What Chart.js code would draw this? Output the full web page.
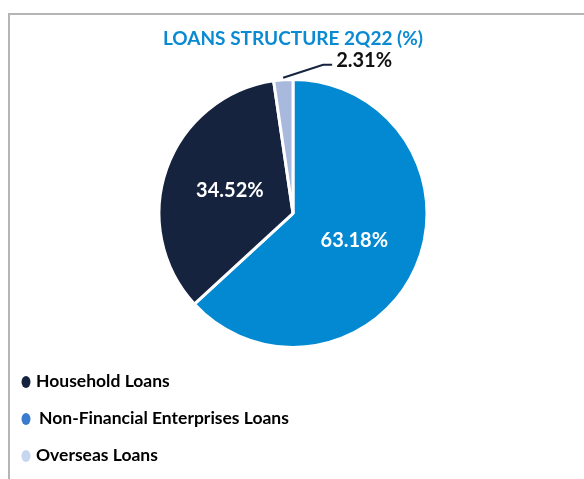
<!DOCTYPE html>
<html>
<head>
<meta charset="utf-8">
<script src="https://cdn.jsdelivr.net/npm/chart.js@4/dist/chart.umd.min.js"></script>
<style>
  html, body { margin: 0; padding: 0; background: #fff; }
  #wrap { position: relative; width: 584px; height: 479px; }
  #frame { position: absolute; left: 8px; top: 13px; right: 0; bottom: 0;
           border-top: 2px solid #b5b5b5; border-left: 2px solid #b5b5b5; }
  #chart { position: absolute; left: 0; top: 0; }
</style>
</head>
<body>
<div id="wrap">
  <div id="frame"></div>
  <canvas id="chart" width="584" height="479"></canvas>
</div>
<script>
const categories = ["Household Loans", "Non-Financial Enterprises Loans", "Overseas Loans"];
const shares = [34.52, 63.18, 2.31];
// slices are laid clockwise from 12 o'clock in this order (indexes into categories)
const drawOrder = [1, 0, 2];

const sliceColors = ["#15233f", "#0289d1", "#a9b9de"];
const markerColors = ["#15233f", "#3a7bcf", "#c6d6ef"];

const FONT = "Lato, 'Open Sans', 'DejaVu Sans', sans-serif";

// percentage labels: inside for big slices, with a leader line for the small one
const sliceLabels = {
  id: "sliceLabels",
  afterDatasetsDraw(chart) {
    const ctx = chart.ctx;
    const meta = chart.getDatasetMeta(0);
    ctx.save();
    ctx.font = "bold 20px " + FONT;
    meta.data.forEach((arc, i) => {
      const value = chart.data.datasets[0].data[i];
      const text = value.toFixed(2) + "%";
      if (value > 10) {
        const pos = arc.tooltipPosition();
        ctx.fillStyle = "#ffffff";
        ctx.textAlign = "center";
        ctx.textBaseline = "middle";
        ctx.fillText(text, pos.x, pos.y);
      } else {
        const p = arc.getProps(["x", "y", "startAngle", "endAngle", "outerRadius"], true);
        const mid = (p.startAngle + p.endAngle) / 2;
        const sx = p.x + Math.cos(mid) * (p.outerRadius + 2);
        const sy = p.y + Math.sin(mid) * (p.outerRadius + 2);
        const ex = sx + 40, ey = sy - 13;
        ctx.strokeStyle = "#15233f";
        ctx.lineWidth = 2;
        ctx.beginPath();
        ctx.moveTo(sx, sy);
        ctx.lineTo(ex, ey);
        ctx.lineTo(ex + 9, ey);
        ctx.stroke();
        ctx.fillStyle = "#111111";
        ctx.textAlign = "left";
        ctx.textBaseline = "middle";
        ctx.fillText(text, ex + 13, ey - 4);
      }
    });
    ctx.restore();
  }
};

// stacked legend under the pie
const listLegend = {
  id: "listLegend",
  afterDraw(chart) {
    const ctx = chart.ctx;
    const top = chart.chartArea.bottom + 25;
    ctx.save();
    ctx.font = "bold 17.5px " + FONT;
    ctx.textAlign = "left";
    ctx.textBaseline = "middle";
    categories.forEach((name, i) => {
      const y = top + i * 37;
      ctx.fillStyle = markerColors[i];
      ctx.beginPath();
      ctx.ellipse(26, y + 1, 4.5, 6, 0, 0, Math.PI * 2);
      ctx.fill();
      ctx.fillStyle = "#000000";
      ctx.fillText(name, i === 1 ? 39 : 36, y);
    });
    ctx.restore();
  }
};

new Chart(document.getElementById("chart"), {
  type: "pie",
  data: {
    labels: drawOrder.map(i => categories[i]),
    datasets: [{
      data: drawOrder.map(i => shares[i]),
      backgroundColor: drawOrder.map(i => sliceColors[i]),
      borderColor: "#ffffff",
      borderWidth: 3,
      radius: 134
    }]
  },
  options: {
    responsive: false,
    devicePixelRatio: 1,
    animation: false,
    rotation: 0,
    layout: { padding: { left: 10, right: 8, top: 0, bottom: 123 } },
    plugins: {
      legend: { display: false },
      tooltip: { enabled: false },
      title: {
        display: true,
        text: "LOANS STRUCTURE 2Q22 (%)",
        color: "#0a8ad2",
        font: { family: FONT, size: 19, weight: "bold" },
        padding: { top: 27, bottom: 21 }
      }
    }
  },
  plugins: [sliceLabels, listLegend]
});
</script>
</body>
</html>
